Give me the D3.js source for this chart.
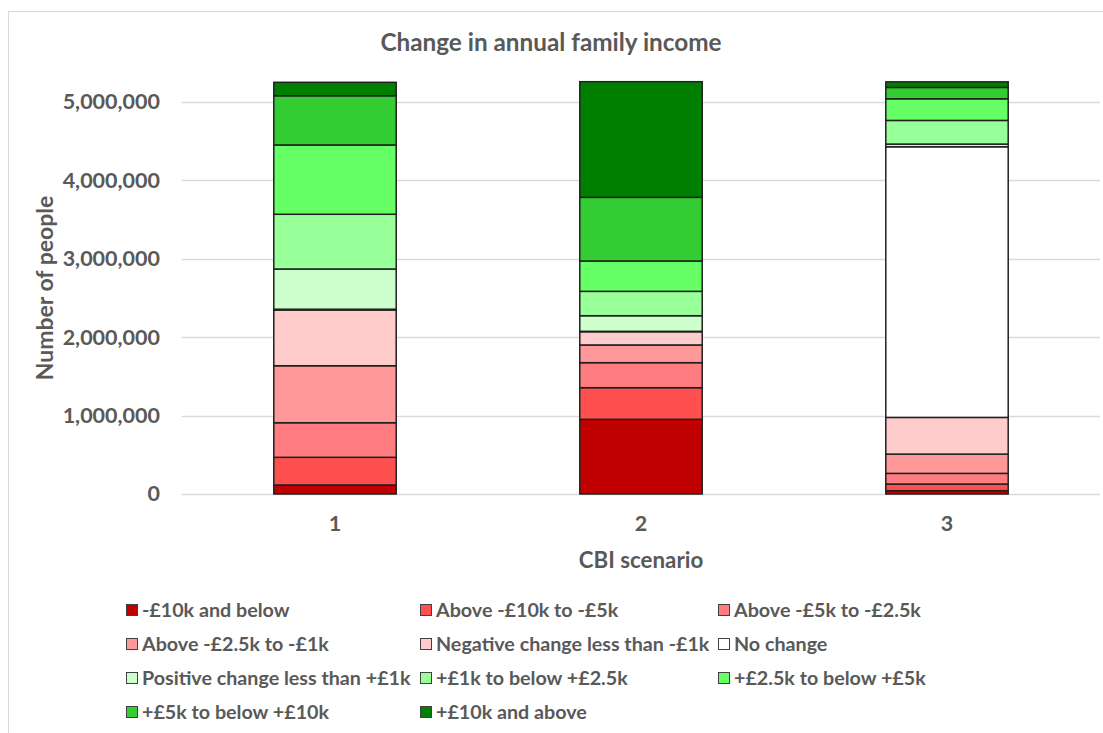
<!DOCTYPE html>
<html>
<head>
<meta charset="utf-8">
<script src="https://cdn.jsdelivr.net/npm/d3@7"></script>
<style>
  body { margin: 0; background: #fff; }
  text { font-family: Lato, "Open Sans", sans-serif; font-weight: bold; fill: #595959; }
</style>
</head>
<body>
<script>
// categories along x
const scenarios = ["1", "2", "3"];

// income change bands, bottom of the stack first
const bands = [
  "-£10k and below",
  "Above -£10k to -£5k",
  "Above -£5k to -£2.5k",
  "Above -£2.5k to -£1k",
  "Negative change less than -£1k",
  "No change",
  "Positive change less than +£1k",
  "+£1k to below +£2.5k",
  "+£2.5k to below +£5k",
  "+£5k to below +£10k",
  "+£10k and above"
];

const bandColors = ["#c00000", "#ff5050", "#ff7c80", "#ff9999", "#ffcccc", "#ffffff",
                    "#ccffcc", "#99ff99", "#66ff66", "#33cc33", "#008000"];

// number of people in each band
const scenario1 = [115000, 353000, 441000, 727000, 711000, 10000, 513000, 698000, 884000, 628000, 171000];
const scenario2 = [953000, 403000, 319000, 226000, 169000, 5000, 199000, 311000, 387000, 812000, 1475000];
const scenario3 = [42000, 85000, 136000, 246000, 468000, 3452000, 34000, 302000, 276000, 145000, 71000];

const yTicks = [0, 1000000, 2000000, 3000000, 4000000, 5000000];

const width = 1103, height = 733;

// table for d3.stack
const seriesValues = [scenario1, scenario2, scenario3];
const table = scenarios.map((s, i) => {
  const row = {scenario: s};
  bands.forEach((b, j) => row[b] = seriesValues[i][j]);
  return row;
});

const svg = d3.select("body").append("svg")
    .attr("width", width)
    .attr("height", height);

// chart area border
svg.append("rect")
    .attr("x", 8.5).attr("y", 11.5)
    .attr("width", width).attr("height", height)
    .attr("fill", "none")
    .attr("stroke", "#d9d9d9");

const x = d3.scaleBand()
    .domain(scenarios)
    .range([182, 1100])
    .paddingInner(0.6)
    .paddingOuter(0.3);

const y = d3.scaleLinear()
    .domain([0, 5500000])
    .range([494, 62.8]);

// gridlines
svg.append("g")
  .selectAll("line")
  .data(yTicks)
  .join("line")
    .attr("x1", 182).attr("x2", 1100)
    .attr("y1", d => Math.round(y(d)) + 0.5)
    .attr("y2", d => Math.round(y(d)) + 0.5)
    .attr("stroke", "#d9d9d9")
    .attr("stroke-width", 1.5);

// y axis
const yAxis = svg.append("g")
    .attr("transform", "translate(172,0)")
    .call(d3.axisLeft(y).tickValues(yTicks).tickFormat(d3.format(",")).tickSize(0).tickPadding(12));
yAxis.select(".domain").remove();
yAxis.selectAll("text").attr("font-size", 21.5).attr("font-family", null);

// stacked bars
const stacked = d3.stack().keys(bands)(table);

svg.append("g")
  .selectAll("g")
  .data(stacked)
  .join("g")
    .attr("fill", (d, i) => bandColors[i])
  .selectAll("rect")
  .data(d => d)
  .join("rect")
    .attr("x", d => x(d.data.scenario))
    .attr("width", x.bandwidth())
    .attr("y", d => y(d[1]))
    .attr("height", d => y(d[0]) - y(d[1]))
    .attr("stroke", "#202020")
    .attr("stroke-width", 1.5);

// x axis labels
const xAxis = svg.append("g")
    .attr("transform", "translate(0,494)")
    .call(d3.axisBottom(x).tickSize(0).tickPadding(22));
xAxis.select(".domain").remove();
xAxis.selectAll("text").attr("font-size", 21.5).attr("font-family", null);

// titles
svg.append("text")
    .attr("x", 551).attr("y", 51)
    .attr("text-anchor", "middle")
    .attr("font-size", 24.3)
    .text("Change in annual family income");

svg.append("text")
    .attr("x", 641).attr("y", 568)
    .attr("text-anchor", "middle")
    .attr("font-size", 22.3)
    .text("CBI scenario");

svg.append("text")
    .attr("transform", "translate(53,288) rotate(-90)")
    .attr("text-anchor", "middle")
    .attr("font-size", 23)
    .text("Number of people");

// legend
const legendCols = [126, 420, 718];
const legend = svg.append("g")
  .selectAll("g")
  .data(bands)
  .join("g")
    .attr("transform", (d, i) => `translate(${legendCols[i % 3]},${617 + Math.floor(i / 3) * 34})`);

legend.append("rect")
    .attr("x", 0.5).attr("y", -12.5)
    .attr("width", 11).attr("height", 11)
    .attr("fill", (d, i) => bandColors[i])
    .attr("stroke", "#404040");

legend.append("text")
    .attr("x", 16)
    .attr("font-size", 19.7)
    .text(d => d);
</script>
</body>
</html>
